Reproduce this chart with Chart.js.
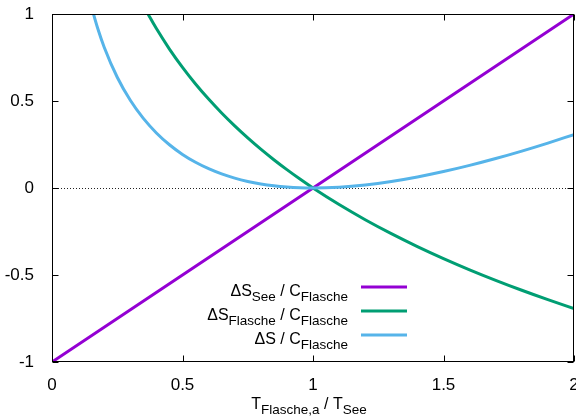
<!DOCTYPE html>
<html>
<head>
<meta charset="utf-8">
<script src="https://cdn.jsdelivr.net/npm/chart.js@4/dist/chart.umd.min.js"></script>
<style>
body { margin: 0; background: #fff; }
#wrap { width: 576px; height: 417px; }
</style>
</head>
<body>
<div id="wrap"><canvas id="chart" width="576" height="417"></canvas></div>
<script>
// x axis: T_Flasche,a / T_See
const seeX = [0, 0.5, 1, 1.5, 2];
const seeY = [-1, -0.5, 0, 0.5, 1];

const flascheX = [0.35, 0.375, 0.4, 0.45, 0.5, 0.55, 0.6, 0.65, 0.7, 0.75, 0.8, 0.85, 0.9, 0.95, 1.0,
                  1.1, 1.2, 1.3, 1.4, 1.5, 1.6, 1.7, 1.8, 1.9, 2.0];
const flascheY = [1.0498, 0.9808, 0.9163, 0.7985, 0.6931, 0.5978, 0.5108, 0.4308, 0.3567, 0.2877, 0.2231, 0.1625, 0.1054, 0.0513, 0,
                  -0.0953, -0.1823, -0.2624, -0.3365, -0.4055, -0.4700, -0.5306, -0.5878, -0.6419, -0.6931];

const totalX = [0.15, 0.175, 0.2, 0.25, 0.3, 0.35, 0.4, 0.45, 0.5, 0.55, 0.6, 0.65, 0.7, 0.75, 0.8, 0.85, 0.9, 0.95, 1.0,
                1.1, 1.2, 1.3, 1.4, 1.5, 1.6, 1.7, 1.8, 1.9, 2.0];
const totalY = [1.0471, 0.9180, 0.8094, 0.6363, 0.5040, 0.3998, 0.3163, 0.2485, 0.1931, 0.1478, 0.1108, 0.0808, 0.0567, 0.0377, 0.0231, 0.0125, 0.0054, 0.0013, 0,
                0.0047, 0.0177, 0.0376, 0.0635, 0.0945, 0.1300, 0.1694, 0.2122, 0.2581, 0.3069];

const xTicks = [0, 0.5, 1, 1.5, 2];
const yTicks = [-1, -0.5, 0, 0.5, 1];

const seriesLabels = ['ΔS_{See} / C_{Flasche}', 'ΔS_{Flasche} / C_{Flasche}', 'ΔS / C_{Flasche}'];
const xTitle = 'T_{Flasche,a} / T_{See}';

const colors = ['#9400d3', '#009e73', '#56b4e9'];
const family = '"Liberation Sans", Arial, sans-serif';
const mainFont = '16px ' + family;
const subFont = '13.5px ' + family;

function points(xs, ys) {
  return xs.map((x, i) => ({ x: x, y: ys[i] }));
}

// split "A_{b}" into normal / subscript pieces
function parseRich(str) {
  const parts = [];
  const re = /_\{([^}]*)\}/g;
  let last = 0, m;
  while ((m = re.exec(str)) !== null) {
    if (m.index > last) parts.push({ t: str.slice(last, m.index), sub: false });
    parts.push({ t: m[1], sub: true });
    last = re.lastIndex;
  }
  if (last < str.length) parts.push({ t: str.slice(last), sub: false });
  return parts;
}

function drawRich(ctx, str, x, base, align) {
  const parts = parseRich(str);
  const widths = parts.map(p => {
    ctx.font = p.sub ? subFont : mainFont;
    return ctx.measureText(p.t).width;
  });
  const total = widths.reduce((s, w) => s + w, 0);
  let cx = align === 'right' ? x - total : align === 'center' ? x - total / 2 : x;
  ctx.textAlign = 'left';
  ctx.textBaseline = 'alphabetic';
  parts.forEach((p, i) => {
    ctx.font = p.sub ? subFont : mainFont;
    ctx.fillText(p.t, cx, p.sub ? base + 5 : base);
    cx += widths[i];
  });
}

const frame = {
  id: 'frame',
  beforeDatasetsDraw(chart) {
    const { ctx, chartArea: a, scales: { y } } = chart;
    const y0 = Math.round(y.getPixelForValue(0)) + 0.5;
    ctx.save();
    ctx.strokeStyle = '#222';
    ctx.lineWidth = 1;
    ctx.setLineDash([1, 2]);
    ctx.beginPath();
    ctx.moveTo(a.left, y0);
    ctx.lineTo(a.right, y0);
    ctx.stroke();
    ctx.restore();
  },
  afterDatasetsDraw(chart) {
    const { ctx, chartArea: a, scales: { x, y } } = chart;
    const L = Math.round(a.left) + 0.5, R = Math.round(a.right) - 0.5;
    const T = Math.round(a.top) + 0.5, B = Math.round(a.bottom) - 0.5;
    ctx.save();
    ctx.strokeStyle = '#000';
    ctx.lineWidth = 1;
    ctx.strokeRect(L, T, R - L, B - T);
    // inward ticks, mirrored on top and right
    ctx.beginPath();
    xTicks.forEach(v => {
      const px = Math.round(x.getPixelForValue(v)) + 0.5;
      ctx.moveTo(px, B); ctx.lineTo(px, B - 6);
      ctx.moveTo(px, T); ctx.lineTo(px, T + 6);
    });
    yTicks.forEach(v => {
      const py = Math.round(y.getPixelForValue(v)) + 0.5;
      ctx.moveTo(L, py); ctx.lineTo(L + 6, py);
      ctx.moveTo(R, py); ctx.lineTo(R - 6, py);
    });
    ctx.stroke();

    // key
    ctx.fillStyle = '#000';
    seriesLabels.forEach((lab, i) => {
      const ly = 287 + i * 24;
      drawRich(ctx, lab, 348, ly + 8.5, 'right');
      ctx.strokeStyle = colors[i];
      ctx.lineWidth = 3;
      ctx.beginPath();
      ctx.moveTo(361, ly);
      ctx.lineTo(407, ly);
      ctx.stroke();
    });

    // x axis title
    drawRich(ctx, xTitle, 309, 409, 'center');
    ctx.restore();
  }
};

const lineSet = (i, xs, ys, order) => ({
  label: seriesLabels[i],
  data: points(xs, ys),
  borderColor: colors[i],
  backgroundColor: colors[i],
  borderWidth: 3,
  pointRadius: 0,
  cubicInterpolationMode: 'monotone',
  fill: false,
  clip: 0,
  order: order
});

new Chart(document.getElementById('chart'), {
  type: 'line',
  data: {
    datasets: [
      lineSet(0, seeX, seeY, 3),
      lineSet(1, flascheX, flascheY, 2),
      lineSet(2, totalX, totalY, 1)
    ]
  },
  options: {
    responsive: false,
    animation: false,
    layout: { padding: { top: 14, right: 2, left: 0, bottom: 0 } },
    plugins: { legend: { display: false }, tooltip: { enabled: false } },
    scales: {
      x: {
        type: 'linear',
        min: 0,
        max: 2,
        afterBuildTicks: s => { s.ticks = xTicks.map(v => ({ value: v })); },
        afterFit: s => { s.height = 55; s.paddingLeft = 0; s.paddingRight = 0; },
        grid: { display: false },
        border: { display: false },
        ticks: {
          color: '#000',
          padding: 5,
          maxRotation: 0,
          font: { family: family, size: 17 },
          callback: v => String(v)
        }
      },
      y: {
        type: 'linear',
        min: -1,
        max: 1,
        afterBuildTicks: s => { s.ticks = yTicks.map(v => ({ value: v })); },
        afterFit: s => { s.width = 52; s.paddingTop = 0; s.paddingBottom = 0; },
        grid: { display: false },
        border: { display: false },
        ticks: {
          color: '#000',
          padding: 10,
          font: { family: family, size: 17 },
          callback: v => String(v)
        }
      }
    }
  },
  plugins: [frame]
});
</script>
</body>
</html>
